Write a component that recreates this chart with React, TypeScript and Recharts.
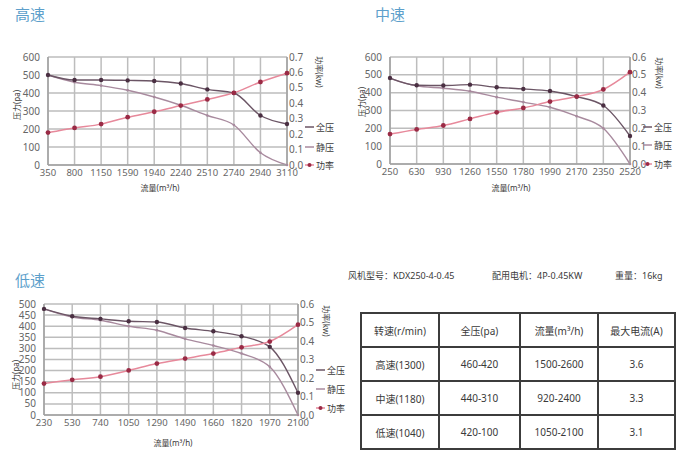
import { CartesianGrid, Line, LineChart, XAxis, YAxis } from "recharts";

// 高速
const highFlow = ["350", "800", "1150", "1590", "1940", "2240", "2510", "2740", "2940", "3110"];
const highTotal = [500, 472, 472, 470, 467, 453, 420, 400, 275, 228];
const highStatic = [500, 460, 441, 415, 378, 332, 275, 222, 68, 0];
const highPower = [0.21, 0.24, 0.265, 0.31, 0.345, 0.385, 0.425, 0.468, 0.538, 0.595];

// 中速
const midFlow = ["250", "630", "930", "1260", "1550", "1780", "1990", "2170", "2350", "2520"];
const midTotal = [482, 442, 440, 445, 430, 421, 409, 378, 328, 157];
const midStatic = [480, 438, 425, 408, 375, 347, 318, 268, 200, 0];
const midPower = [0.168, 0.194, 0.216, 0.253, 0.29, 0.314, 0.35, 0.378, 0.418, 0.515];

// 低速
const lowFlow = ["230", "530", "740", "1050", "1290", "1490", "1660", "1820", "1970", "2100"];
const lowTotal = [478, 445, 433, 422, 419, 392, 377, 355, 307, 100];
const lowStatic = [478, 441, 427, 400, 382, 343, 313, 277, 217, 0];
const lowPower = [0.17, 0.19, 0.207, 0.241, 0.278, 0.305, 0.332, 0.366, 0.397, 0.488];

const pressureTicksHigh = [0, 100, 200, 300, 400, 500, 600];
const powerTicksHigh = [0, 0.1, 0.2, 0.3, 0.4, 0.5, 0.6, 0.7];
const powerTicksMid = [0, 0.1, 0.2, 0.3, 0.4, 0.5, 0.6];
const pressureTicksLow = [0, 50, 100, 150, 200, 250, 300, 350, 400, 450, 500];

const specHeader = ["转速(r/min)", "全压(pa)", "流量(m³/h)", "最大电流(A)"];
const specRows = [
  ["高速(1300)", "460-420", "1500-2600", "3.6"],
  ["中速(1180)", "440-310", "920-2400", "3.3"],
  ["低速(1040)", "420-100", "1050-2100", "3.1"],
];

const FONT = "'Noto Sans', 'Noto Sans CJK SC', sans-serif";
const TOTAL_COLOR = "#6b5565";
const TOTAL_DOT = "#4a2f42";
const STATIC_COLOR = "#a88a9e";
const POWER_COLOR = "#e7899b";
const POWER_DOT = "#9a2a45";
const GRID = "#bdbdbd";
const TITLE = "#5d9fcb";
const TEXT = "#3a3a3a";

type FanChartProps = {
  flow: string[];
  total: number[];
  stat: number[];
  power: number[];
  pressureTicks: number[];
  powerTicks: number[];
  width: number;
  height: number;
  leftW: number;
  margin: { top: number; right: number; bottom: number; left: number };
};

function FanChart(p: FanChartProps) {
  const data = p.flow.map((f, i) => ({ flow: f, total: p.total[i], stat: p.stat[i], power: p.power[i] }));
  const pMax = p.pressureTicks[p.pressureTicks.length - 1];
  const wMax = p.powerTicks[p.powerTicks.length - 1];
  return (
    <LineChart width={p.width} height={p.height} data={data} margin={p.margin}>
      <CartesianGrid stroke={GRID} strokeWidth={1.5} />
      <XAxis
        dataKey="flow"
        scale="point"
        padding={{ left: 0, right: 0 }}
        interval={0}
        tickLine={false}
        tickSize={2}
        tickMargin={2}
        height={20}
        fontSize={9.5}
        axisLine={{ stroke: "#a0a0a0", strokeWidth: 1.5 }}
      />
      <YAxis
        domain={[0, pMax]}
        ticks={p.pressureTicks}
        interval={0}
        width={p.leftW}
        fontSize={10}
        tickLine={false}
        axisLine={{ stroke: "#a0a0a0", strokeWidth: 1.5 }}
      />
      <YAxis
        yAxisId="w"
        orientation="right"
        domain={[0, wMax]}
        ticks={p.powerTicks}
        interval={0}
        width={20}
        fontSize={10}
        tickSize={1}
        tickMargin={1}
        tickLine={false}
        axisLine={{ stroke: "#a0a0a0", strokeWidth: 1.5 }}
        tickFormatter={(v: number) => v.toFixed(1)}
      />
      <Line type="monotone" dataKey="stat" stroke={STATIC_COLOR} strokeWidth={1.4} dot={{ r: 1.3, fill: STATIC_COLOR, stroke: STATIC_COLOR, strokeWidth: 0 }} isAnimationActive={false} />
      <Line type="monotone" dataKey="total" stroke={TOTAL_COLOR} strokeWidth={1.4} dot={{ r: 2.2, fill: TOTAL_DOT, stroke: TOTAL_DOT, strokeWidth: 0 }} isAnimationActive={false} />
      <Line yAxisId="w" type="monotone" dataKey="power" stroke={POWER_COLOR} strokeWidth={1.5} dot={{ r: 2.4, fill: POWER_DOT, stroke: POWER_DOT, strokeWidth: 0 }} isAnimationActive={false} />
    </LineChart>
  );
}

function Abs({ x, y, children, style }: { x: number; y: number; children: React.ReactNode; style?: React.CSSProperties }) {
  return <div style={{ position: "absolute", left: x, top: y, whiteSpace: "nowrap", lineHeight: 1, color: TEXT, ...style }}>{children}</div>;
}

function Rotated({ cx, cy, text, angle }: { cx: number; cy: number; text: string; angle: number }) {
  return (
    <div
      style={{
        position: "absolute",
        left: cx,
        top: cy,
        transform: `translate(-50%, -50%) rotate(${angle}deg)`,
        fontSize: 8,
        color: TEXT,
        whiteSpace: "nowrap",
        lineHeight: 1,
      }}
    >
      {text}
    </div>
  );
}

function SeriesKey({ x, ys }: { x: number; ys: number[] }) {
  const items = [
    { label: "全压", color: TOTAL_COLOR, dot: false },
    { label: "静压", color: STATIC_COLOR, dot: false },
    { label: "功率", color: POWER_COLOR, dot: true },
  ];
  return (
    <>
      {items.map((it, i) => (
        <div key={it.label} style={{ position: "absolute", left: x, top: ys[i] - 5, height: 10, display: "flex", alignItems: "center", fontSize: 9, color: TEXT }}>
          <svg width={9} height={6} style={{ marginRight: 2 }}>
            <line x1={0} y1={3} x2={9} y2={3} stroke={it.color} strokeWidth={1.5} />
            {it.dot ? <circle cx={4.5} cy={3} r={2} fill={POWER_DOT} /> : null}
          </svg>
          {it.label}
        </div>
      ))}
    </>
  );
}

export default function App() {
  const cell: React.CSSProperties = { border: "2px solid #3c3c3c", textAlign: "center", fontSize: 10, color: TEXT, padding: 0 };
  return (
    <div style={{ position: "absolute", left: 0, top: 0, width: 691, height: 451, fontFamily: FONT }}>
      <Abs x={15} y={7} style={{ fontSize: 15, color: TITLE }}>高速</Abs>
      <Abs x={375} y={7} style={{ fontSize: 15, color: TITLE }}>中速</Abs>
      <Abs x={15} y={273} style={{ fontSize: 15, color: TITLE }}>低速</Abs>

      <div style={{ position: "absolute", left: 0, top: 0, width: 345, height: 200 }}>
        <FanChart flow={highFlow} total={highTotal} stat={highStatic} power={highPower} pressureTicks={pressureTicksHigh} powerTicks={powerTicksHigh} width={345} height={200} leftW={48} margin={{ top: 57, right: 38, bottom: 15, left: 0 }} />
      </div>
      <div style={{ position: "absolute", left: 345, top: 0, width: 346, height: 200 }}>
        <FanChart flow={midFlow} total={midTotal} stat={midStatic} power={midPower} pressureTicks={pressureTicksHigh} powerTicks={powerTicksMid} width={346} height={200} leftW={45} margin={{ top: 57, right: 41, bottom: 16, left: 0 }} />
      </div>
      <div style={{ position: "absolute", left: 0, top: 260, width: 345, height: 191 }}>
        <FanChart flow={lowFlow} total={lowTotal} stat={lowStatic} power={lowPower} pressureTicks={pressureTicksLow} powerTicks={powerTicksMid} width={345} height={191} leftW={44} margin={{ top: 44, right: 27, bottom: 16, left: 0 }} />
      </div>

      <Rotated cx={17} cy={105} text="压力(pa)" angle={-90} />
      <Rotated cx={362} cy={102} text="压力(pa)" angle={-90} />
      <Rotated cx={16} cy={375} text="压力(pa)" angle={-90} />
      <Rotated cx={319} cy={72} text="功率(kw)" angle={90} />
      <Rotated cx={659} cy={73} text="功率(kw)" angle={90} />
      <Rotated cx={326} cy={321} text="功率(kw)" angle={90} />

      <Rotated cx={160} cy={188} text="流量(m³/h)" angle={0} />
      <Rotated cx={511} cy={188} text="流量(m³/h)" angle={0} />
      <Rotated cx={173} cy={443} text="流量(m³/h)" angle={0} />

      <SeriesKey x={305} ys={[127, 147, 165]} />
      <SeriesKey x={643} ys={[127, 145, 164]} />
      <SeriesKey x={316} ys={[370, 389, 408]} />

      <Abs x={348} y={271} style={{ fontSize: 9 }}>风机型号：KDX250-4-0.45</Abs>
      <Abs x={492} y={271} style={{ fontSize: 9 }}>配用电机：4P-0.45KW</Abs>
      <Abs x={615} y={271} style={{ fontSize: 9 }}>重量：16kg</Abs>

      <table style={{ position: "absolute", left: 360, top: 312, width: 314, height: 135, borderCollapse: "collapse", tableLayout: "fixed" }}>
        <colgroup>
          <col style={{ width: 78 }} />
          <col style={{ width: 81 }} />
          <col style={{ width: 78 }} />
          <col style={{ width: 77 }} />
        </colgroup>
        <tbody>
          <tr style={{ height: 34 }}>
            {specHeader.map((h) => (
              <td key={h} style={cell}>{h}</td>
            ))}
          </tr>
          {specRows.map((row) => (
            <tr key={row[0]} style={{ height: 34 }}>
              {row.map((c, i) => (
                <td key={i} style={cell}>{c}</td>
              ))}
            </tr>
          ))}
        </tbody>
      </table>
    </div>
  );
}
